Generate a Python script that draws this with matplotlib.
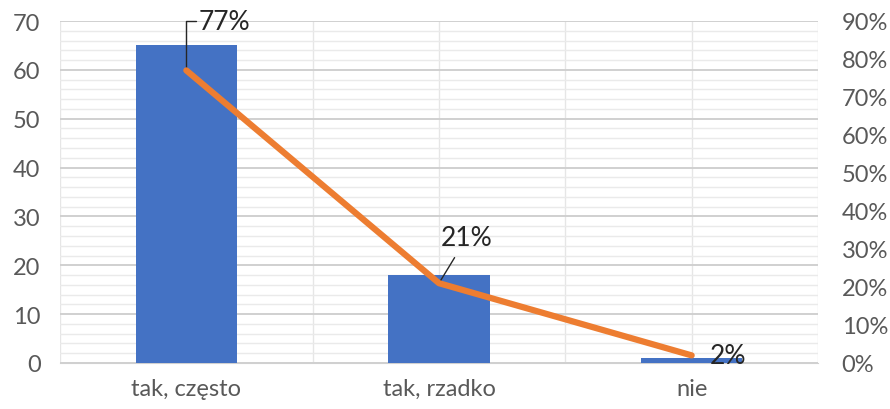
import matplotlib.pyplot as plt
import numpy as np
from matplotlib.ticker import MultipleLocator, FuncFormatter

plt.rcParams['font.family'] = ['Lato', 'DejaVu Sans']

categories = ["tak, często", "tak, rzadko", "nie"]
counts = [65, 18, 1]
shares = [0.77, 0.21, 0.02]
share_labels = ["77%", "21%", "2%"]

fig = plt.figure(figsize=(8.9, 4.1), dpi=100)
ax = fig.add_axes([60 / 890, 46 / 410, 758 / 890, 342 / 410])
ax2 = ax.twinx()

x = np.arange(len(categories))
ax.bar(x, counts, width=0.4, color="#4472C4", zorder=3)
ax.set_xlim(-0.5, 2.5)
ax.set_ylim(0, 70)
ax.yaxis.set_major_locator(MultipleLocator(10))
ax.yaxis.set_minor_locator(MultipleLocator(2))
ax.set_xticks(x)
ax.set_xticklabels(categories)
ax.set_xticks([-0.5, 0.5, 1.5, 2.5], minor=True)
ax.grid(True, which="major", axis="y", color="#D0D0D0", lw=1.4, zorder=0)
ax.grid(True, which="minor", axis="y", color="#EAEAEA", lw=1.0, zorder=0)
ax.grid(True, which="both", axis="x", color="#E6E6E6", lw=1.0, zorder=0)
ax.tick_params(which="both", length=0, labelsize=17, labelcolor="#595959")
ax.tick_params(axis="y", pad=14)
ax.tick_params(axis="x", pad=11)
for s in ax.spines.values():
    s.set_visible(False)
ax.spines["bottom"].set_visible(True)
ax.spines["bottom"].set_color("#D0D0D0")

ax2.plot(x, shares, color="#ED7D31", lw=4.5, solid_capstyle="round", zorder=4)
ax2.set_ylim(0, 0.9)
ax2.yaxis.set_major_locator(MultipleLocator(0.1))
ax2.yaxis.set_major_formatter(FuncFormatter(lambda v, p: f"{v * 100:.0f}%"))
ax2.tick_params(length=0, labelsize=17, labelcolor="#595959", pad=17)
for s in ax2.spines.values():
    s.set_visible(False)

# data labels with leader lines
ax2.annotate(share_labels[0], xy=(x[0], shares[0]), xytext=(x[0] + 0.05, 0.9),
             fontsize=19, color="#262626", ha="left", va="center",
             arrowprops=dict(arrowstyle="-", color="#262626", lw=1.0,
                             shrinkA=0, shrinkB=0,
                             connectionstyle="angle,angleA=0,angleB=90,rad=0"))
ax2.annotate(share_labels[1], xy=(x[1], shares[1]), xytext=(x[1] + 0.11, 0.33),
             fontsize=19, color="#262626", ha="center", va="center",
             arrowprops=dict(arrowstyle="-", color="#262626", lw=1.0, shrinkA=4, shrinkB=0))
ax2.annotate(share_labels[2], xy=(x[2], shares[2]), xytext=(x[2] + 0.07, 0.02),
             fontsize=19, color="#262626", ha="left", va="center")

fig.savefig("out.png", dpi=100)
